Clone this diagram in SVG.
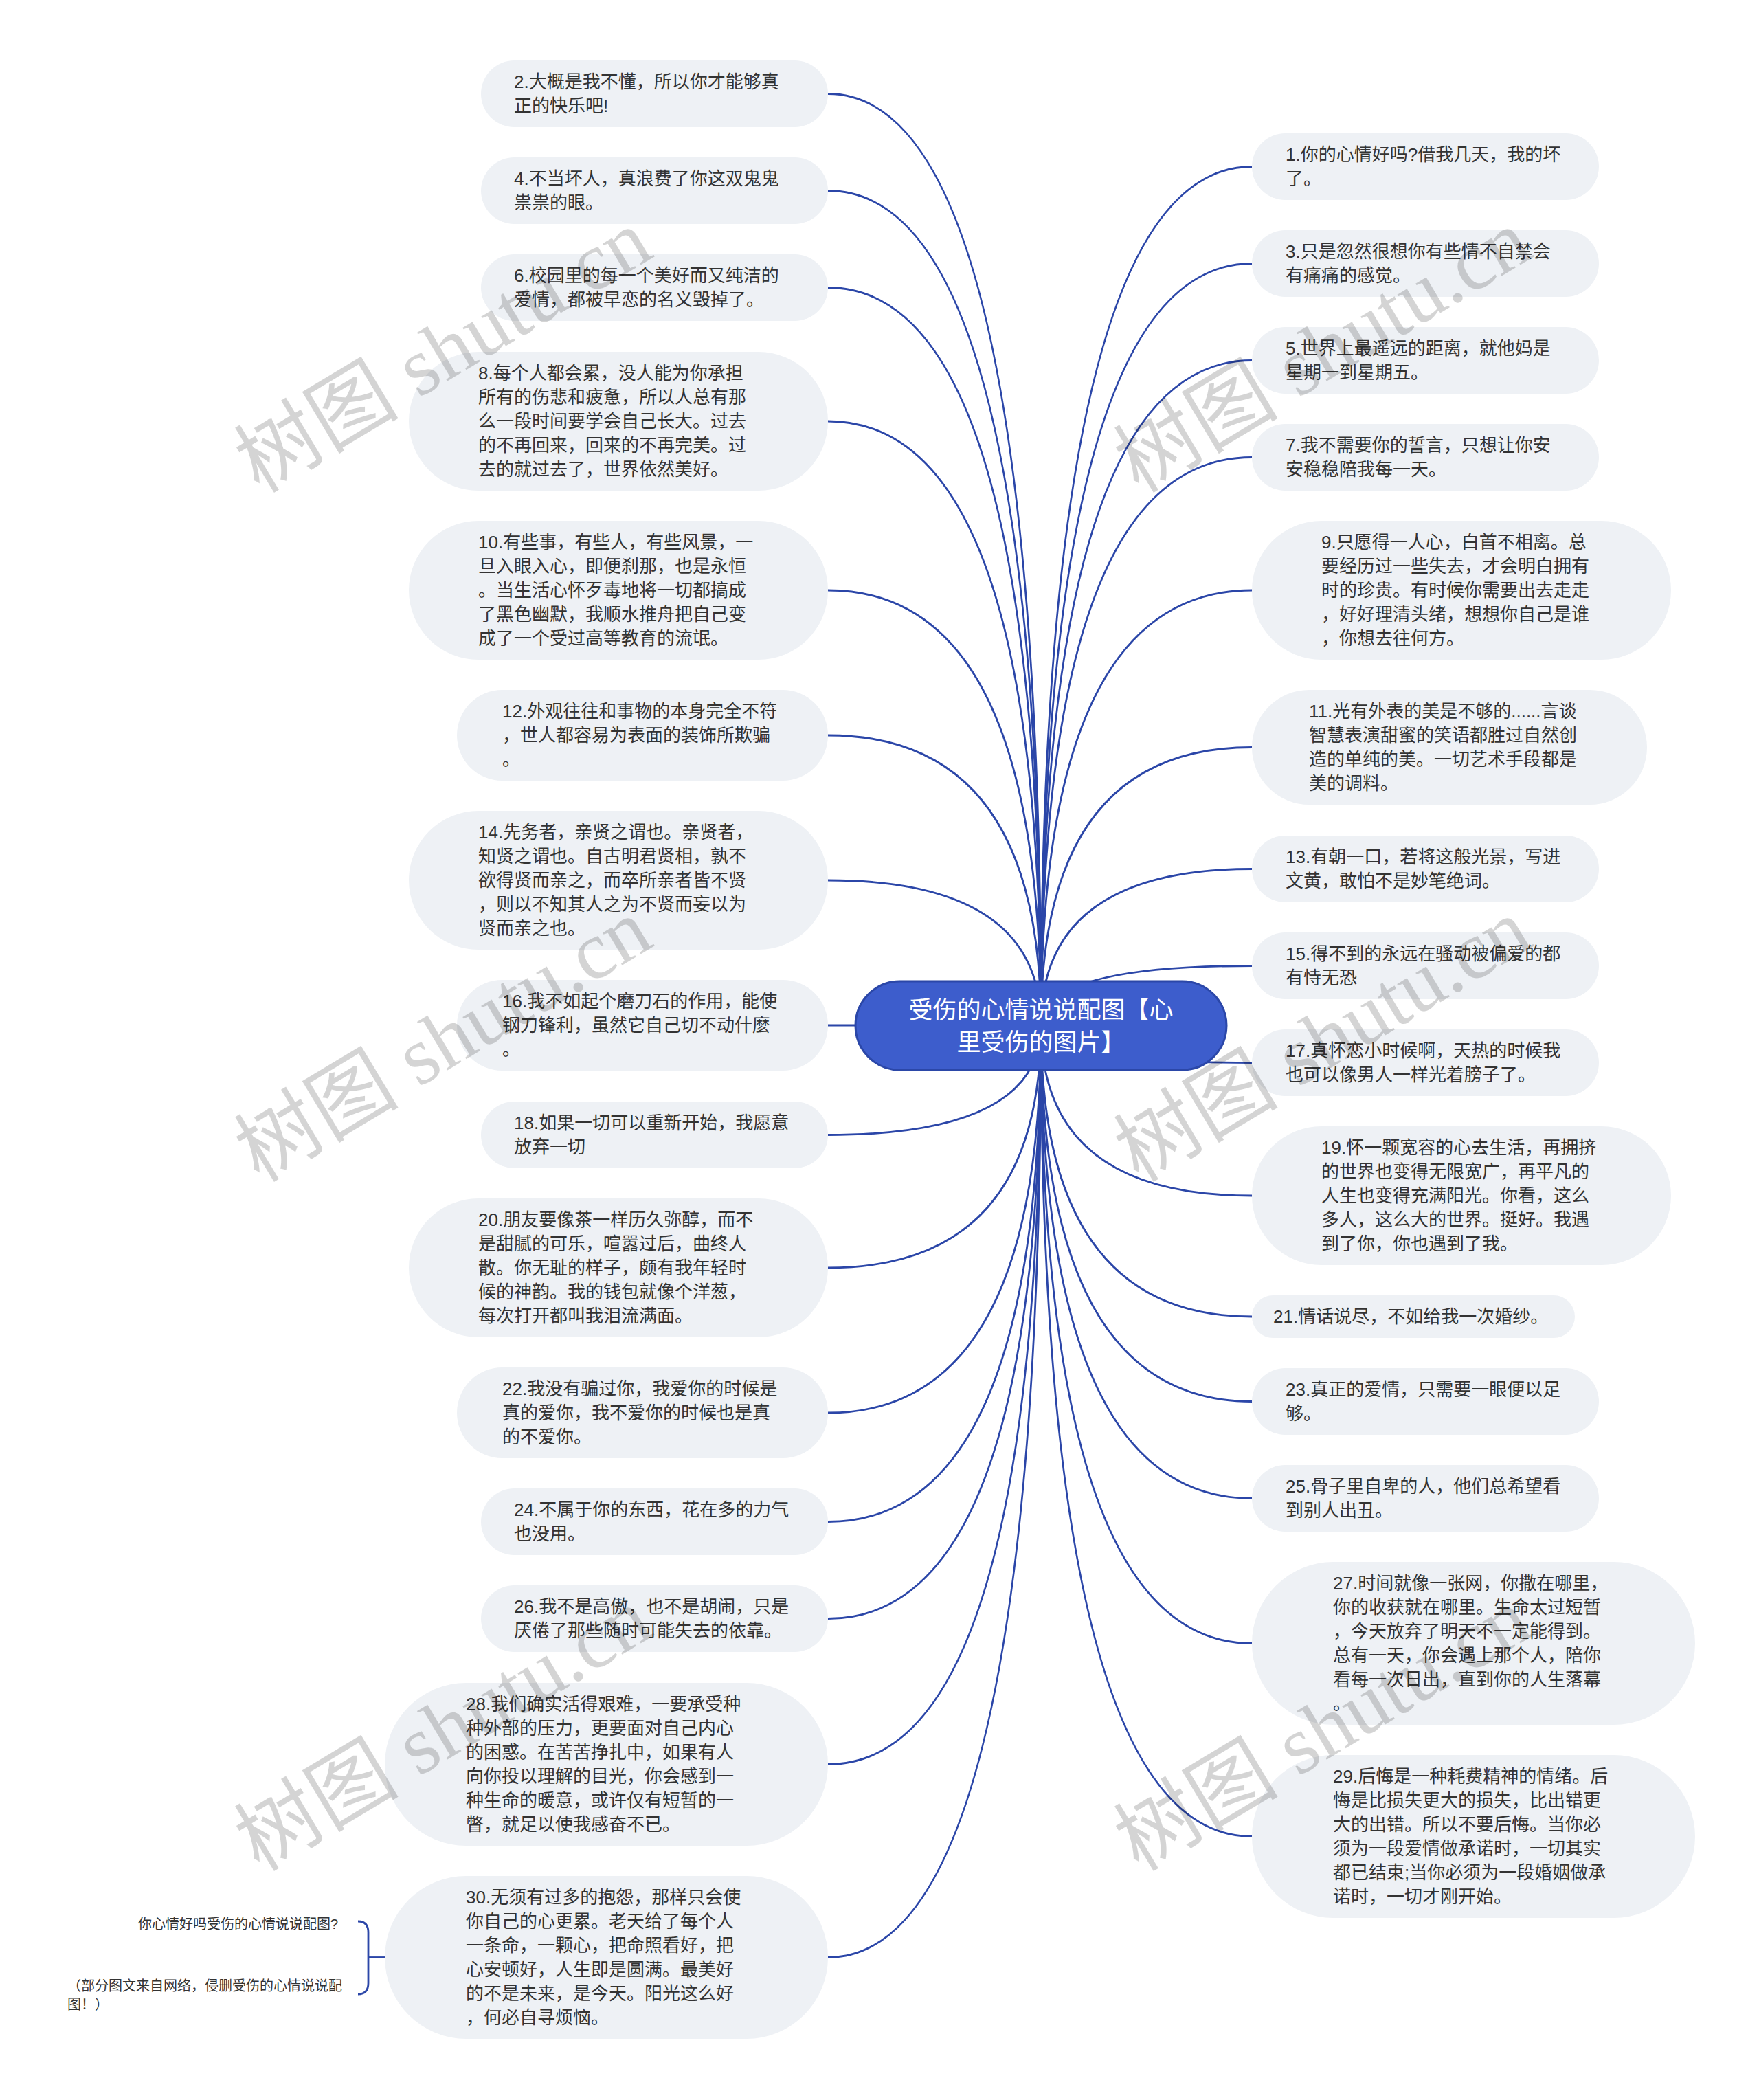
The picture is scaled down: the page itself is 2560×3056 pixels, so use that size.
<svg xmlns="http://www.w3.org/2000/svg" width="2560" height="3056" viewBox="0 0 2560 3056">
<style>
.leaf rect{fill:#eef1f5}
.leaf text,.note text{font-family:"Liberation Sans","Noto Sans CJK SC",sans-serif;font-size:26px;fill:#333;dominant-baseline:central}
.note text{font-size:20px}
.conn path{fill:none;stroke:#2b46a8;stroke-width:2.8}
.root rect{fill:#3d5dcc;stroke:#2b47a8;stroke-width:3}
.root text{font-family:"Liberation Sans","Noto Sans CJK SC",sans-serif;font-size:35px;fill:#fff;text-anchor:middle;dominant-baseline:central}
.wm text{font-family:"Liberation Serif","Noto Sans CJK SC",serif;font-size:120px;fill:#000;fill-opacity:0.17;text-anchor:middle;dominant-baseline:central}
</style>
<rect width="2560" height="3056" fill="#fff"/>
<g id="connectors" class="conn">
<path d="M1205 136.5 Q1515 136.5 1515 1492"/>
<path d="M1205 277.5 Q1515 277.5 1515 1492"/>
<path d="M1205 418.5 Q1515 418.5 1515 1492"/>
<path d="M1205 613 Q1515 613 1515 1492"/>
<path d="M1205 859 Q1515 859 1515 1492"/>
<path d="M1205 1070 Q1515 1070 1515 1492"/>
<path d="M1205 1281 Q1515 1281 1515 1492"/>
<path d="M1205 1492 L1515 1492"/>
<path d="M1205 1651.5 Q1515 1651.5 1515 1492"/>
<path d="M1205 1845 Q1515 1845 1515 1492"/>
<path d="M1205 2056 Q1515 2056 1515 1492"/>
<path d="M1205 2214.5 Q1515 2214.5 1515 1492"/>
<path d="M1205 2355.5 Q1515 2355.5 1515 1492"/>
<path d="M1205 2567.5 Q1515 2567.5 1515 1492"/>
<path d="M1205 2848.5 Q1515 2848.5 1515 1492"/>
<path d="M1822 242.5 Q1515 242.5 1515 1492"/>
<path d="M1822 383.5 Q1515 383.5 1515 1492"/>
<path d="M1822 524.5 Q1515 524.5 1515 1492"/>
<path d="M1822 665.5 Q1515 665.5 1515 1492"/>
<path d="M1822 859 Q1515 859 1515 1492"/>
<path d="M1822 1087.5 Q1515 1087.5 1515 1492"/>
<path d="M1822 1264.5 Q1515 1264.5 1515 1492"/>
<path d="M1822 1405.5 Q1515 1405.5 1515 1492"/>
<path d="M1822 1546.5 Q1515 1546.5 1515 1492"/>
<path d="M1822 1740 Q1515 1740 1515 1492"/>
<path d="M1822 1916 Q1515 1916 1515 1492"/>
<path d="M1822 2039.5 Q1515 2039.5 1515 1492"/>
<path d="M1822 2180.5 Q1515 2180.5 1515 1492"/>
<path d="M1822 2391.5 Q1515 2391.5 1515 1492"/>
<path d="M1822 2672.5 Q1515 2672.5 1515 1492"/>
<path d="M521 2796 Q536 2796 536 2812 L536 2886 Q536 2902 521 2902"/>
<path d="M536 2848.5 L560 2848.5"/>
</g>
<g id="root" class="root">
<rect x="1245" y="1428" width="540" height="129" rx="64.5"/>
<text x="1515" y="1469">受伤的心情说说配图【心</text>
<text x="1515" y="1516">里受伤的图片】</text>
</g>
<g id="n2" class="leaf"><rect x="700" y="88" width="505" height="97" rx="48.5"/><text x="748" y="119">2.大概是我不懂，所以你才能够真</text><text x="748" y="154">正的快乐吧!</text></g>
<g id="n4" class="leaf"><rect x="700" y="229" width="505" height="97" rx="48.5"/><text x="748" y="260">4.不当坏人，真浪费了你这双鬼鬼</text><text x="748" y="295">祟祟的眼。</text></g>
<g id="n6" class="leaf"><rect x="700" y="370" width="505" height="97" rx="48.5"/><text x="748" y="401">6.校园里的每一个美好而又纯洁的</text><text x="748" y="436">爱情，都被早恋的名义毁掉了。</text></g>
<g id="n8" class="leaf"><rect x="595" y="512" width="610" height="202" rx="101"/><text x="696" y="543">8.每个人都会累，没人能为你承担</text><text x="696" y="578">所有的伤悲和疲惫，所以人总有那</text><text x="696" y="613">么一段时间要学会自己长大。过去</text><text x="696" y="648">的不再回来，回来的不再完美。过</text><text x="696" y="683">去的就过去了，世界依然美好。</text></g>
<g id="n10" class="leaf"><rect x="595" y="758" width="610" height="202" rx="101"/><text x="696" y="789">10.有些事，有些人，有些风景，一</text><text x="696" y="824">旦入眼入心，即便刹那，也是永恒</text><text x="696" y="859">。当生活心怀歹毒地将一切都搞成</text><text x="696" y="894">了黑色幽默，我顺水推舟把自己变</text><text x="696" y="929">成了一个受过高等教育的流氓。</text></g>
<g id="n12" class="leaf"><rect x="665" y="1004" width="540" height="132" rx="66"/><text x="731" y="1035">12.外观往往和事物的本身完全不符</text><text x="731" y="1070">，世人都容易为表面的装饰所欺骗</text><text x="731" y="1105">。</text></g>
<g id="n14" class="leaf"><rect x="595" y="1180" width="610" height="202" rx="101"/><text x="696" y="1211">14.先务者，亲贤之谓也。亲贤者，</text><text x="696" y="1246">知贤之谓也。自古明君贤相，孰不</text><text x="696" y="1281">欲得贤而亲之，而卒所亲者皆不贤</text><text x="696" y="1316">，则以不知其人之为不贤而妄以为</text><text x="696" y="1351">贤而亲之也。</text></g>
<g id="n16" class="leaf"><rect x="665" y="1426" width="540" height="132" rx="66"/><text x="731" y="1457">16.我不如起个磨刀石的作用，能使</text><text x="731" y="1492">钢刀锋利，虽然它自己切不动什麼</text><text x="731" y="1527">。</text></g>
<g id="n18" class="leaf"><rect x="700" y="1603" width="505" height="97" rx="48.5"/><text x="748" y="1634">18.如果一切可以重新开始，我愿意</text><text x="748" y="1669">放弃一切</text></g>
<g id="n20" class="leaf"><rect x="595" y="1744" width="610" height="202" rx="101"/><text x="696" y="1775">20.朋友要像茶一样历久弥醇，而不</text><text x="696" y="1810">是甜腻的可乐，喧嚣过后，曲终人</text><text x="696" y="1845">散。你无耻的样子，颇有我年轻时</text><text x="696" y="1880">候的神韵。我的钱包就像个洋葱，</text><text x="696" y="1915">每次打开都叫我泪流满面。</text></g>
<g id="n22" class="leaf"><rect x="665" y="1990" width="540" height="132" rx="66"/><text x="731" y="2021">22.我没有骗过你，我爱你的时候是</text><text x="731" y="2056">真的爱你，我不爱你的时候也是真</text><text x="731" y="2091">的不爱你。</text></g>
<g id="n24" class="leaf"><rect x="700" y="2166" width="505" height="97" rx="48.5"/><text x="748" y="2197">24.不属于你的东西，花在多的力气</text><text x="748" y="2232">也没用。</text></g>
<g id="n26" class="leaf"><rect x="700" y="2307" width="505" height="97" rx="48.5"/><text x="748" y="2338">26.我不是高傲，也不是胡闹，只是</text><text x="748" y="2373">厌倦了那些随时可能失去的依靠。</text></g>
<g id="n28" class="leaf"><rect x="560" y="2449" width="645" height="237" rx="118.5"/><text x="678" y="2480">28.我们确实活得艰难，一要承受种</text><text x="678" y="2515">种外部的压力，更要面对自己内心</text><text x="678" y="2550">的困惑。在苦苦挣扎中，如果有人</text><text x="678" y="2585">向你投以理解的目光，你会感到一</text><text x="678" y="2620">种生命的暖意，或许仅有短暂的一</text><text x="678" y="2655">瞥，就足以使我感奋不已。</text></g>
<g id="n30" class="leaf"><rect x="560" y="2730" width="645" height="237" rx="118.5"/><text x="678" y="2761">30.无须有过多的抱怨，那样只会使</text><text x="678" y="2796">你自己的心更累。老天给了每个人</text><text x="678" y="2831">一条命，一颗心，把命照看好，把</text><text x="678" y="2866">心安顿好，人生即是圆满。最美好</text><text x="678" y="2901">的不是未来，是今天。阳光这么好</text><text x="678" y="2936">，何必自寻烦恼。</text></g>
<g id="n1" class="leaf"><rect x="1822" y="194" width="505" height="97" rx="48.5"/><text x="1871" y="225">1.你的心情好吗?借我几天，我的坏</text><text x="1871" y="260">了。</text></g>
<g id="n3" class="leaf"><rect x="1822" y="335" width="505" height="97" rx="48.5"/><text x="1871" y="366">3.只是忽然很想你有些情不自禁会</text><text x="1871" y="401">有痛痛的感觉。</text></g>
<g id="n5" class="leaf"><rect x="1822" y="476" width="505" height="97" rx="48.5"/><text x="1871" y="507">5.世界上最遥远的距离，就他妈是</text><text x="1871" y="542">星期一到星期五。</text></g>
<g id="n7" class="leaf"><rect x="1822" y="617" width="505" height="97" rx="48.5"/><text x="1871" y="648">7.我不需要你的誓言，只想让你安</text><text x="1871" y="683">安稳稳陪我每一天。</text></g>
<g id="n9" class="leaf"><rect x="1822" y="758" width="610" height="202" rx="101"/><text x="1923" y="789">9.只愿得一人心，白首不相离。总</text><text x="1923" y="824">要经历过一些失去，才会明白拥有</text><text x="1923" y="859">时的珍贵。有时候你需要出去走走</text><text x="1923" y="894">，好好理清头绪，想想你自己是谁</text><text x="1923" y="929">，你想去往何方。</text></g>
<g id="n11" class="leaf"><rect x="1822" y="1004" width="575" height="167" rx="83.5"/><text x="1905" y="1035">11.光有外表的美是不够的......言谈</text><text x="1905" y="1070">智慧表演甜蜜的笑语都胜过自然创</text><text x="1905" y="1105">造的单纯的美。一切艺术手段都是</text><text x="1905" y="1140">美的调料。</text></g>
<g id="n13" class="leaf"><rect x="1822" y="1216" width="505" height="97" rx="48.5"/><text x="1871" y="1247">13.有朝一口，若将这般光景，写进</text><text x="1871" y="1282">文黄，敢怕不是妙笔绝词。</text></g>
<g id="n15" class="leaf"><rect x="1822" y="1357" width="505" height="97" rx="48.5"/><text x="1871" y="1388">15.得不到的永远在骚动被偏爱的都</text><text x="1871" y="1423">有恃无恐</text></g>
<g id="n17" class="leaf"><rect x="1822" y="1498" width="505" height="97" rx="48.5"/><text x="1871" y="1529">17.真怀恋小时候啊，天热的时候我</text><text x="1871" y="1564">也可以像男人一样光着膀子了。</text></g>
<g id="n19" class="leaf"><rect x="1822" y="1639" width="610" height="202" rx="101"/><text x="1923" y="1670">19.怀一颗宽容的心去生活，再拥挤</text><text x="1923" y="1705">的世界也变得无限宽广，再平凡的</text><text x="1923" y="1740">人生也变得充满阳光。你看，这么</text><text x="1923" y="1775">多人，这么大的世界。挺好。我遇</text><text x="1923" y="1810">到了你，你也遇到了我。</text></g>
<g id="n21" class="leaf"><rect x="1822" y="1885" width="470" height="62" rx="31"/><text x="1853" y="1916">21.情话说尽，不如给我一次婚纱。</text></g>
<g id="n23" class="leaf"><rect x="1822" y="1991" width="505" height="97" rx="48.5"/><text x="1871" y="2022">23.真正的爱情，只需要一眼便以足</text><text x="1871" y="2057">够。</text></g>
<g id="n25" class="leaf"><rect x="1822" y="2132" width="505" height="97" rx="48.5"/><text x="1871" y="2163">25.骨子里自卑的人，他们总希望看</text><text x="1871" y="2198">到别人出丑。</text></g>
<g id="n27" class="leaf"><rect x="1822" y="2273" width="645" height="237" rx="118.5"/><text x="1940" y="2304">27.时间就像一张网，你撒在哪里，</text><text x="1940" y="2339">你的收获就在哪里。生命太过短暂</text><text x="1940" y="2374">，今天放弃了明天不一定能得到。</text><text x="1940" y="2409">总有一天，你会遇上那个人，陪你</text><text x="1940" y="2444">看每一次日出，直到你的人生落幕</text><text x="1940" y="2479">。</text></g>
<g id="n29" class="leaf"><rect x="1822" y="2554" width="645" height="237" rx="118.5"/><text x="1940" y="2585">29.后悔是一种耗费精神的情绪。后</text><text x="1940" y="2620">悔是比损失更大的损失，比出错更</text><text x="1940" y="2655">大的出错。所以不要后悔。当你必</text><text x="1940" y="2690">须为一段爱情做承诺时，一切其实</text><text x="1940" y="2725">都已结束;当你必须为一段婚姻做承</text><text x="1940" y="2760">诺时，一切才刚开始。</text></g>
<g id="note1" class="note"><text x="201" y="2800">你心情好吗受伤的心情说说配图?</text></g>
<g id="note2" class="note"><text x="98" y="2890">（部分图文来自网络，侵删受伤的心情说说配</text><text x="98" y="2917">图！）</text></g>
<g id="watermarks" class="wm">
<text x="645" y="511" transform="rotate(-31 645 511)">树图 shutu.cn</text>
<text x="1925" y="511" transform="rotate(-31 1925 511)">树图 shutu.cn</text>
<text x="645" y="1514" transform="rotate(-31 645 1514)">树图 shutu.cn</text>
<text x="1925" y="1514" transform="rotate(-31 1925 1514)">树图 shutu.cn</text>
<text x="645" y="2517" transform="rotate(-31 645 2517)">树图 shutu.cn</text>
<text x="1925" y="2517" transform="rotate(-31 1925 2517)">树图 shutu.cn</text>
</g>
</svg>
